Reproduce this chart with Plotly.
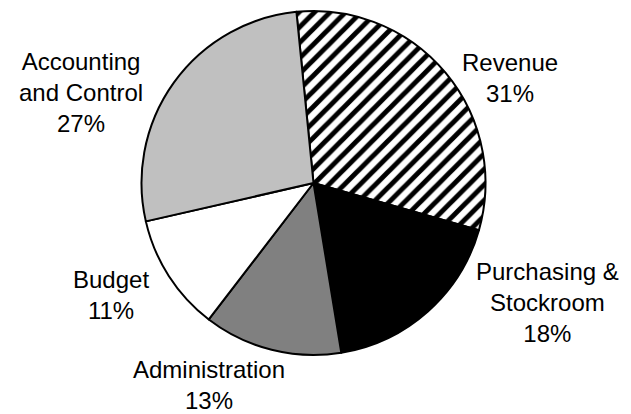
import plotly.graph_objects as go

# Share of workload by department
departments = ["Revenue", "Purchasing &<br>Stockroom", "Administration", "Budget", "Accounting<br>and Control"]
shares = [31, 18, 13, 11, 27]

# Slice fills (Revenue is drawn with a diagonal hatch)
slice_colors = ["#ffffff", "#000000", "#808080", "#ffffff", "#c0c0c0"]
slice_patterns = ["/", "", "", "", ""]

# Label anchor points in pixels (x from left, y from top)
label_px = [(510, 78), (547, 302), (209, 385), (111, 295), (81, 92)]

W, H = 631, 414
cx, cy, r = 313.5, 183.0, 172.0

fig = go.Figure(
    go.Pie(
        labels=departments,
        values=shares,
        sort=False,
        direction="clockwise",
        rotation=-5.7,
        textinfo="none",
        hoverinfo="label+percent",
        marker=dict(
            colors=slice_colors,
            line=dict(color="#000000", width=2),
            pattern=dict(
                shape=slice_patterns,
                fgcolor="#000000",
                bgcolor="#ffffff",
                size=11,
                solidity=0.45,
                fillmode="replace",
            ),
        ),
        domain=dict(
            x=[(cx - r) / W, (cx + r) / W],
            y=[1 - (cy + r) / H, 1 - (cy - r) / H],
        ),
        showlegend=False,
    )
)

total = sum(shares)
for name, v, (px, py) in zip(departments, shares, label_px):
    fig.add_annotation(
        text=f"{name}<br>{round(100 * v / total)}%",
        x=px / W,
        y=1 - py / H,
        xref="paper",
        yref="paper",
        xanchor="center",
        yanchor="middle",
        align="center",
        showarrow=False,
        borderpad=0,
        font=dict(family="Liberation Sans, Arial, sans-serif", size=24, color="#000000"),
    )

fig.update_layout(
    width=W,
    height=H,
    margin=dict(l=0, r=0, t=0, b=0),
    paper_bgcolor="#ffffff",
    plot_bgcolor="#ffffff",
)

fig.write_html("out.html")
